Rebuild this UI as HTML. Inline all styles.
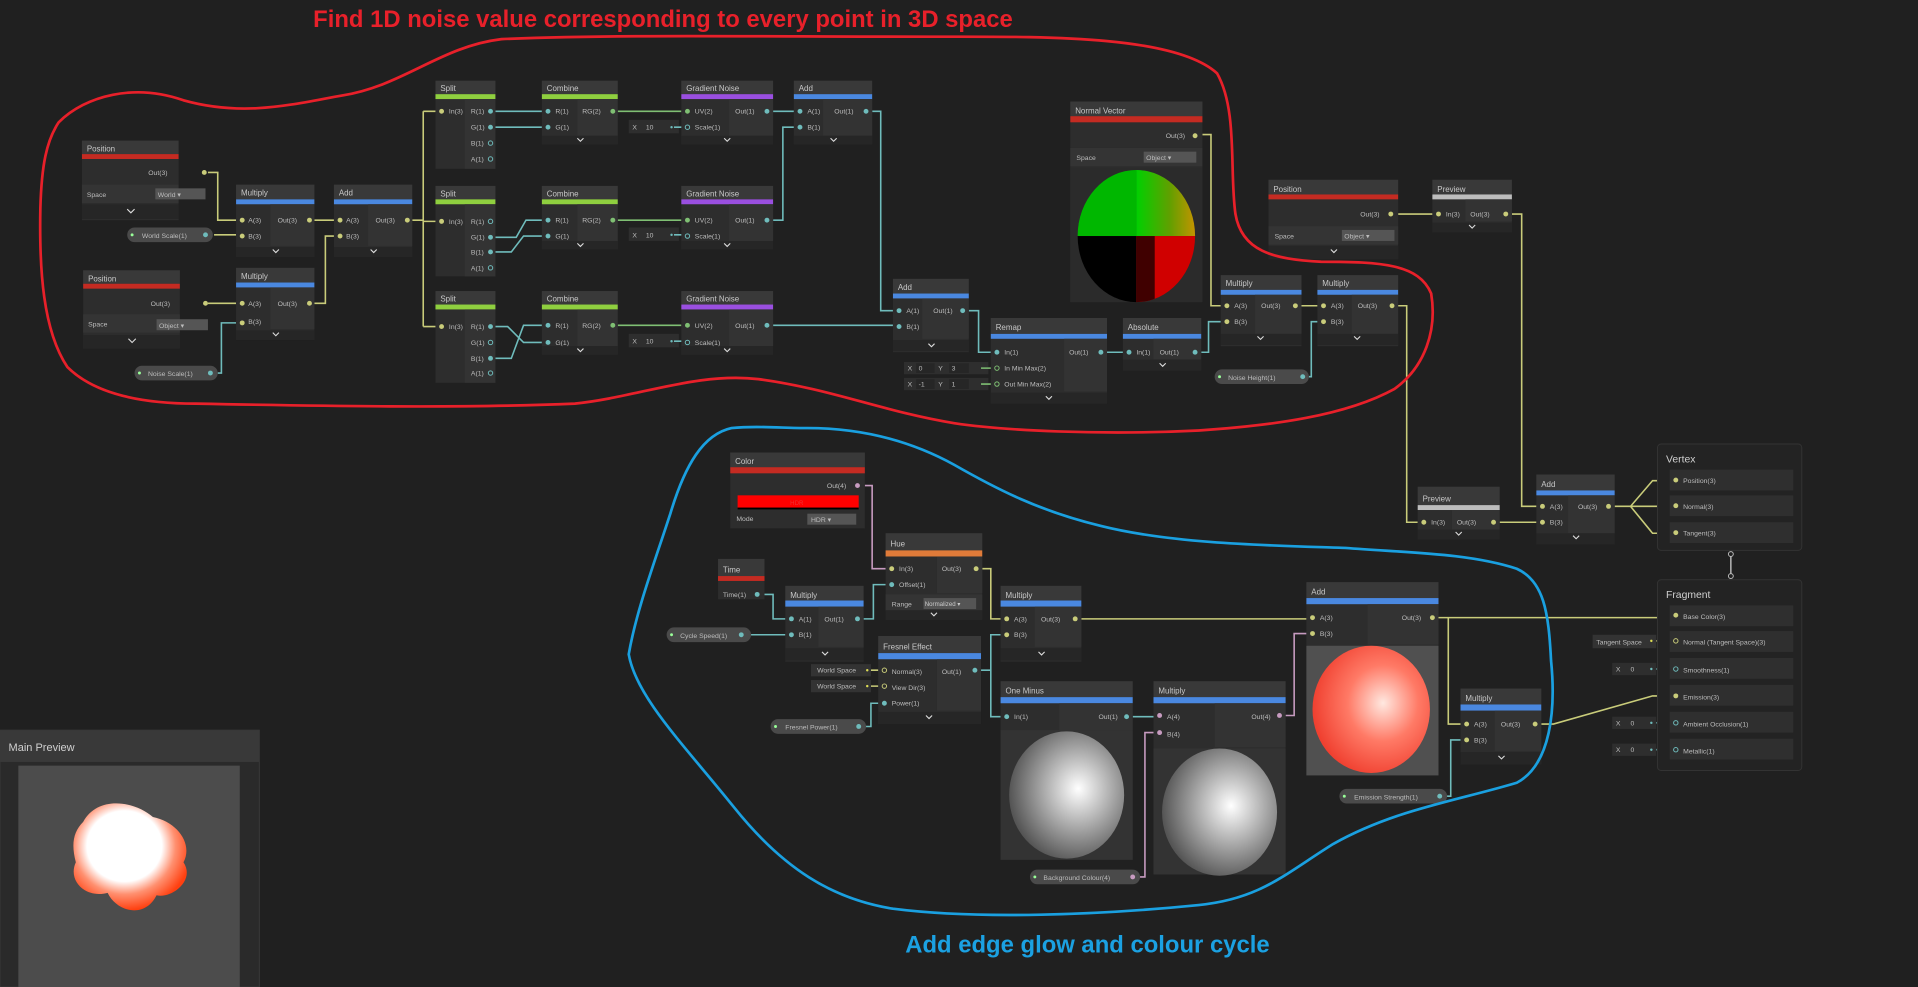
<!DOCTYPE html>
<html><head><meta charset="utf-8"><style>
html,body{margin:0;padding:0;background:#202020;overflow:hidden}
svg{display:block}
text{font-family:"Liberation Sans",sans-serif}
.h{fill:#c8c8c8;font-size:6.5px}
.t{fill:#bdbdbd;font-size:5.6px}
.b{fill:#2d2d2d}.hd{fill:#393939}.f{fill:#262626}.sub{fill:#343434}
.w{fill:none;stroke-width:1.3}
.y{stroke:#c9cc7a}.c{stroke:#6fbcbc}.g{stroke:#7fbf73}.p{stroke:#c79bc0}
.pill{fill:#4a4a4a}
.ch{fill:none;stroke:#ddd;stroke-width:.9}
</style></head><body>
<svg width="1918" height="987" viewBox="0 0 1568 807" preserveAspectRatio="none" xmlns="http://www.w3.org/2000/svg">
<defs>
<radialGradient id="gs" cx="0.6" cy="0.45" r="0.6"><stop offset="0" stop-color="#fff"/><stop offset="1" stop-color="#555"/></radialGradient>
<radialGradient id="rs" cx="0.6" cy="0.45" r="0.6"><stop offset="0" stop-color="#ffe8e0"/><stop offset="0.5" stop-color="#ff7a66"/><stop offset="1" stop-color="#f04030"/></radialGradient>
<linearGradient id="nv1" x1="0" y1="0" x2="1" y2="0"><stop offset="0" stop-color="#00d000"/><stop offset="0.5" stop-color="#60a000"/><stop offset="1" stop-color="#e09000"/></linearGradient>
<radialGradient id="blob" cx="0.45" cy="0.4" r="0.6"><stop offset="0" stop-color="#fff"/><stop offset="0.55" stop-color="#fff"/><stop offset="0.75" stop-color="#ff9070"/><stop offset="1" stop-color="#ff4010"/></radialGradient>
</defs>
<rect width="1568" height="807" fill="#202020"/>

<g class="w">
<path class="y" d="M170,141 H178 V180 H193"/>
<path class="y" d="M175,192 H193"/>
<path class="y" d="M170,248 H193"/>
<path class="c" d="M178,305 H181 V264 H193"/>
<path class="y" d="M257,180 H273"/>
<path class="y" d="M257,248 H266 V193 H273"/>
<path class="y" d="M337,180 H346 M346,91 V267 M346,91 H356 M346,181 H356 M346,267 H356"/>
<path class="c" d="M405,91 H443 M405,104 H443"/>
<path class="c" d="M405,194 H422 L430,180 H443 M405,206 H418 L428,193 H443"/>
<path class="c" d="M405,267 H415 L428,280 H443 M405,293 H418 L428,266 H443"/>
<path class="g" d="M505,91 H557 M505,180 H557 M505,266 H557"/>
<path class="c" d="M632,91 H649 M632,180 H640 V104 H649"/>
<path class="c" d="M713,91 H720 V254 H730 M632,266 H730"/>
<path class="c" d="M792,254 H800 V288 H810 M905,288 H918"/>
<path class="c" d="M982,288 H988 V263 H998"/>
<path class="y" d="M983,110 H990 V250 H998 M1064,250 H1077"/>
<path class="c" d="M1070,308 H1072 V263 H1077"/>
<path class="y" d="M1142,250 H1150 V427 H1159"/>
<path class="y" d="M1143,175 H1171 M1236,175 H1244 V414 H1256 M1226,427 H1256"/>
<path class="y" d="M1320,414 H1333 L1351,393 H1365 M1333,414 H1365 M1333,414 L1351,436 H1365"/>
<path class="y" d="M1176,505 H1365 M1176,505 H1184 V592 H1194 M1260,592 H1270 L1351,569 H1365"/>
<path class="c" d="M1183,651 H1186 V605 H1194"/>
<path class="p" d="M707,397 H713 V465 H724"/>
<path class="c" d="M625,486 H632 V506 H642 M614,519 H642 M706,506 H714 V478 H724"/>
<path class="y" d="M803,465 H810 V506 H818 M884,506 H1068"/>
<path class="c" d="M802,548 H810 V519 H818 M810,548 V586 H818 M708,594 H712 V575 H718"/>
<path class="c" d="M926,586 H943"/>
<path class="p" d="M932,717 H936 V599 H943 M1051,585 H1058 V518 H1068"/>
<path class="y" d="M712,548 H718 M712,561 H718 M1354,524 H1362"/>
<path class="c" d="M1354,547 H1362 M1354,591 H1362 M1354,613 H1362"/>
</g>

<rect x="67" y="115" width="79" height="65" class="b"/><rect x="67" y="115" width="79" height="11" class="hd"/><rect x="67" y="126" width="79" height="4" fill="#c42b22"/>
<text x="71" y="124" class="h">Position</text><text x="143" y="143" class="t" text-anchor="end" dx="-6">Out(3)</text><circle cx="167" cy="141" r="2" fill="#c9cc7a"/>
<rect x="67" y="151" width="79" height="15" class="sub"/><text x="71" y="161" class="t">Space</text><rect x="127" y="154" width="41" height="9" fill="#555"/><text x="129" y="161" class="t" fill="#ddd">World ▾</text>
<rect x="67" y="167" width="79" height="12" class="f"/><path d="M104,171 l3,3 l3,-3" class="ch"/>
<rect x="104" y="186" width="70" height="12" rx="6" class="pill"/><text x="116" y="194.5" class="t">World Scale(1)</text><circle cx="108" cy="192" r="1.2" fill="#9f9"/><circle cx="168" cy="192" r="2" fill="#6fbcbc"/>
<rect x="68" y="221" width="79" height="64" class="b"/><rect x="68" y="221" width="79" height="11" class="hd"/><rect x="68" y="232" width="79" height="4" fill="#c42b22"/>
<text x="72" y="230" class="h">Position</text><text x="144" y="250" class="t" text-anchor="end" dx="-5">Out(3)</text><circle cx="168" cy="248" r="2" fill="#c9cc7a"/>
<rect x="68" y="257" width="79" height="15" class="sub"/><text x="72" y="267" class="t">Space</text><rect x="128" y="261" width="42" height="9" fill="#555"/><text x="130" y="268" class="t">Object ▾</text>
<rect x="68" y="274" width="79" height="11" class="f"/><path d="M105,277 l3,3 l3,-3" class="ch"/>
<rect x="110" y="299" width="68" height="12" rx="6" class="pill"/><text x="121" y="307.5" class="t">Noise Scale(1)</text><circle cx="114" cy="305" r="1.2" fill="#9f9"/><circle cx="172" cy="305" r="2" fill="#6fbcbc"/>

<g transform="translate(193,151)">
<rect width="64" height="59" class="b"/><rect width="64" height="12" class="hd"/><rect y="12" width="64" height="4" fill="#4a88e0"/><text x="4" y="9" class="h">Multiply</text>
<rect x="28" y="16" width="36" height="34" fill="#333"/><text x="10" y="31" class="t">A(3)</text><text x="10" y="44" class="t">B(3)</text><text x="34" y="31" class="t">Out(3)</text>
<circle cx="5" cy="29" r="2" fill="#c9cc7a"/><circle cx="5" cy="42" r="2" fill="#c9cc7a"/><circle cx="60" cy="29" r="2" fill="#c9cc7a"/>
<rect y="51" width="64" height="8" class="f"/><path d="M30,53 l2.5,2.5 l2.5,-2.5" class="ch"/></g>
<g transform="translate(273,151)">
<rect width="64" height="59" class="b"/><rect width="64" height="12" class="hd"/><rect y="12" width="64" height="4" fill="#4a88e0"/><text x="4" y="9" class="h">Add</text>
<rect x="28" y="16" width="36" height="34" fill="#333"/><text x="10" y="31" class="t">A(3)</text><text x="10" y="44" class="t">B(3)</text><text x="34" y="31" class="t">Out(3)</text>
<circle cx="5" cy="29" r="2" fill="#c9cc7a"/><circle cx="5" cy="42" r="2" fill="#c9cc7a"/><circle cx="60" cy="29" r="2" fill="#c9cc7a"/>
<rect y="51" width="64" height="8" class="f"/><path d="M30,53 l2.5,2.5 l2.5,-2.5" class="ch"/></g>
<g transform="translate(193,219)">
<rect width="64" height="59" class="b"/><rect width="64" height="12" class="hd"/><rect y="12" width="64" height="4" fill="#4a88e0"/><text x="4" y="9" class="h">Multiply</text>
<rect x="28" y="16" width="36" height="34" fill="#333"/><text x="10" y="31" class="t">A(3)</text><text x="10" y="46" class="t">B(3)</text><text x="34" y="31" class="t">Out(3)</text>
<circle cx="5" cy="29" r="2" fill="#c9cc7a"/><circle cx="5" cy="45" r="2" fill="#c9cc7a"/><circle cx="60" cy="29" r="2" fill="#c9cc7a"/>
<rect y="51" width="64" height="8" class="f"/><path d="M30,53 l2.5,2.5 l2.5,-2.5" class="ch"/></g>

<g transform="translate(356,66)">
<rect width="49" height="72" class="b"/><rect width="49" height="11" class="hd"/><rect y="11" width="49" height="4" fill="#8fcf3f"/><text x="4" y="8.5" class="h">Split</text>
<rect x="24" y="15" width="25" height="57" fill="#333"/><text x="11" y="27" class="t">In(3)</text><circle cx="5" cy="25" r="2" fill="#c9cc7a"/>
<text x="29" y="27" class="t">R(1)</text><text x="29" y="40" class="t">G(1)</text><text x="29" y="53" class="t">B(1)</text><text x="29" y="66" class="t">A(1)</text>
<circle cx="45" cy="25" r="2" fill="#6fbcbc"/><circle cx="45" cy="38" r="2" fill="#6fbcbc"/><circle cx="45" cy="51" r="1.8" fill="none" stroke="#6fbcbc" stroke-width=".8"/><circle cx="45" cy="64" r="1.8" fill="none" stroke="#6fbcbc" stroke-width=".8"/></g>
<g transform="translate(356,152)">
<rect width="49" height="74" class="b"/><rect width="49" height="11" class="hd"/><rect y="11" width="49" height="4" fill="#8fcf3f"/><text x="4" y="8.5" class="h">Split</text>
<rect x="24" y="15" width="25" height="59" fill="#333"/><text x="11" y="31" class="t">In(3)</text><circle cx="5" cy="29" r="2" fill="#c9cc7a"/>
<text x="29" y="31" class="t">R(1)</text><text x="29" y="44" class="t">G(1)</text><text x="29" y="56" class="t">B(1)</text><text x="29" y="69" class="t">A(1)</text>
<circle cx="45" cy="29" r="1.8" fill="none" stroke="#6fbcbc" stroke-width=".8"/><circle cx="45" cy="42" r="2" fill="#6fbcbc"/><circle cx="45" cy="54" r="2" fill="#6fbcbc"/><circle cx="45" cy="67" r="1.8" fill="none" stroke="#6fbcbc" stroke-width=".8"/></g>
<g transform="translate(356,238)">
<rect width="49" height="75" class="b"/><rect width="49" height="11" class="hd"/><rect y="11" width="49" height="4" fill="#8fcf3f"/><text x="4" y="8.5" class="h">Split</text>
<rect x="24" y="15" width="25" height="60" fill="#333"/><text x="11" y="31" class="t">In(3)</text><circle cx="5" cy="29" r="2" fill="#c9cc7a"/>
<text x="29" y="31" class="t">R(1)</text><text x="29" y="44" class="t">G(1)</text><text x="29" y="57" class="t">B(1)</text><text x="29" y="69" class="t">A(1)</text>
<circle cx="45" cy="29" r="2" fill="#6fbcbc"/><circle cx="45" cy="42" r="1.8" fill="none" stroke="#6fbcbc" stroke-width=".8"/><circle cx="45" cy="55" r="2" fill="#6fbcbc"/><circle cx="45" cy="67" r="1.8" fill="none" stroke="#6fbcbc" stroke-width=".8"/></g>

<g transform="translate(443,66)">
<rect width="62" height="52" class="b"/><rect width="62" height="11" class="hd"/><rect y="11" width="62" height="4" fill="#8fcf3f"/><text x="4" y="8.5" class="h">Combine</text>
<rect x="29" y="15" width="33" height="30" fill="#333"/><text x="11" y="27" class="t">R(1)</text><text x="11" y="40" class="t">G(1)</text><text x="33" y="27" class="t">RG(2)</text>
<circle cx="5" cy="25" r="2" fill="#6fbcbc"/><circle cx="5" cy="38" r="2" fill="#6fbcbc"/><circle cx="58" cy="25" r="2" fill="#7fbf73"/>
<rect y="45" width="62" height="7" class="f"/><path d="M29,47 l2.5,2.5 l2.5,-2.5" class="ch"/></g>
<g transform="translate(443,152)">
<rect width="62" height="52" class="b"/><rect width="62" height="11" class="hd"/><rect y="11" width="62" height="4" fill="#8fcf3f"/><text x="4" y="8.5" class="h">Combine</text>
<rect x="29" y="15" width="33" height="30" fill="#333"/><text x="11" y="30" class="t">R(1)</text><text x="11" y="43" class="t">G(1)</text><text x="33" y="30" class="t">RG(2)</text>
<circle cx="5" cy="28" r="2" fill="#6fbcbc"/><circle cx="5" cy="41" r="2" fill="#6fbcbc"/><circle cx="58" cy="28" r="2" fill="#7fbf73"/>
<rect y="45" width="62" height="7" class="f"/><path d="M29,47 l2.5,2.5 l2.5,-2.5" class="ch"/></g>
<g transform="translate(443,238)">
<rect width="62" height="52" class="b"/><rect width="62" height="11" class="hd"/><rect y="11" width="62" height="4" fill="#8fcf3f"/><text x="4" y="8.5" class="h">Combine</text>
<rect x="29" y="15" width="33" height="30" fill="#333"/><text x="11" y="30" class="t">R(1)</text><text x="11" y="44" class="t">G(1)</text><text x="33" y="30" class="t">RG(2)</text>
<circle cx="5" cy="28" r="2" fill="#6fbcbc"/><circle cx="5" cy="42" r="2" fill="#6fbcbc"/><circle cx="58" cy="28" r="2" fill="#7fbf73"/>
<rect y="45" width="62" height="7" class="f"/><path d="M29,47 l2.5,2.5 l2.5,-2.5" class="ch"/></g>

<g transform="translate(557,66)">
<rect width="75" height="52" class="b"/><rect width="75" height="11" class="hd"/><rect y="11" width="75" height="4" fill="#9a4fe0"/><text x="4" y="8.5" class="h">Gradient Noise</text>
<rect x="39" y="15" width="36" height="30" fill="#333"/><text x="11" y="27" class="t">UV(2)</text><text x="11" y="40" class="t">Scale(1)</text><text x="44" y="27" class="t">Out(1)</text>
<circle cx="5" cy="25" r="2" fill="#7fbf73"/><circle cx="5" cy="38" r="1.8" fill="none" stroke="#6fbcbc" stroke-width=".8"/><circle cx="70" cy="25" r="2" fill="#6fbcbc"/>
<rect y="45" width="75" height="7" class="f"/><path d="M35,47 l2.5,2.5 l2.5,-2.5" class="ch"/></g>
<g transform="translate(557,152)">
<rect width="75" height="52" class="b"/><rect width="75" height="11" class="hd"/><rect y="11" width="75" height="4" fill="#9a4fe0"/><text x="4" y="8.5" class="h">Gradient Noise</text>
<rect x="39" y="15" width="36" height="30" fill="#333"/><text x="11" y="30" class="t">UV(2)</text><text x="11" y="43" class="t">Scale(1)</text><text x="44" y="30" class="t">Out(1)</text>
<circle cx="5" cy="28" r="2" fill="#7fbf73"/><circle cx="5" cy="41" r="1.8" fill="none" stroke="#6fbcbc" stroke-width=".8"/><circle cx="70" cy="28" r="2" fill="#6fbcbc"/>
<rect y="45" width="75" height="7" class="f"/><path d="M35,47 l2.5,2.5 l2.5,-2.5" class="ch"/></g>
<g transform="translate(557,238)">
<rect width="75" height="52" class="b"/><rect width="75" height="11" class="hd"/><rect y="11" width="75" height="4" fill="#9a4fe0"/><text x="4" y="8.5" class="h">Gradient Noise</text>
<rect x="39" y="15" width="36" height="30" fill="#333"/><text x="11" y="30" class="t">UV(2)</text><text x="11" y="44" class="t">Scale(1)</text><text x="44" y="30" class="t">Out(1)</text>
<circle cx="5" cy="28" r="2" fill="#7fbf73"/><circle cx="5" cy="42" r="1.8" fill="none" stroke="#6fbcbc" stroke-width=".8"/><circle cx="70" cy="28" r="2" fill="#6fbcbc"/>
<rect y="45" width="75" height="7" class="f"/><path d="M35,47 l2.5,2.5 l2.5,-2.5" class="ch"/></g>
<g class="t"><rect x="514" y="98" width="41" height="11" fill="#2e2e2e"/><text x="517" y="106">X</text><text x="528" y="106">10</text><circle cx="549" cy="104" r="1" fill="#6fbcbc"/>
<rect x="514" y="186" width="41" height="11" fill="#2e2e2e"/><text x="517" y="194">X</text><text x="528" y="194">10</text><circle cx="549" cy="192" r="1" fill="#6fbcbc"/>
<rect x="514" y="273" width="41" height="11" fill="#2e2e2e"/><text x="517" y="281">X</text><text x="528" y="281">10</text><circle cx="549" cy="279" r="1" fill="#6fbcbc"/></g>
<path class="w c" d="M551,104 H557 M551,192 H557 M551,279 H557"/>

<g transform="translate(649,66)">
<rect width="64" height="52" class="b"/><rect width="64" height="11" class="hd"/><rect y="11" width="64" height="4" fill="#4a88e0"/><text x="4" y="8.5" class="h">Add</text>
<rect x="24" y="15" width="40" height="30" fill="#333"/><text x="11" y="27" class="t">A(1)</text><text x="11" y="40" class="t">B(1)</text><text x="33" y="27" class="t">Out(1)</text>
<circle cx="5" cy="25" r="2" fill="#6fbcbc"/><circle cx="5" cy="38" r="2" fill="#6fbcbc"/><circle cx="59" cy="25" r="2" fill="#6fbcbc"/>
<rect y="45" width="64" height="7" class="f"/><path d="M30,47 l2.5,2.5 l2.5,-2.5" class="ch"/></g>
<g transform="translate(730,228)">
<rect width="62" height="60" class="b"/><rect width="62" height="12" class="hd"/><rect y="12" width="62" height="4" fill="#4a88e0"/><text x="4" y="9" class="h">Add</text>
<rect x="24" y="16" width="38" height="33" fill="#333"/><text x="11" y="28" class="t">A(1)</text><text x="11" y="41" class="t">B(1)</text><text x="33" y="28" class="t">Out(1)</text>
<circle cx="5" cy="26" r="2" fill="#6fbcbc"/><circle cx="5" cy="39" r="2" fill="#6fbcbc"/><circle cx="57" cy="26" r="2" fill="#6fbcbc"/>
<rect y="50" width="62" height="9" class="f"/><path d="M29,53 l2.5,2.5 l2.5,-2.5" class="ch"/></g>
<g transform="translate(810,260)">
<rect width="95" height="70" class="b"/><rect width="95" height="13" class="hd"/><rect y="13" width="95" height="4" fill="#4a88e0"/><text x="4" y="10" class="h">Remap</text>
<rect x="60" y="17" width="35" height="43" fill="#333"/><text x="11" y="30" class="t">In(1)</text><text x="11" y="43" class="t">In Min Max(2)</text><text x="11" y="56" class="t">Out Min Max(2)</text><text x="64" y="30" class="t">Out(1)</text>
<circle cx="5" cy="28" r="2" fill="#6fbcbc"/><circle cx="5" cy="41" r="1.8" fill="none" stroke="#7fbf73" stroke-width=".8"/><circle cx="5" cy="54" r="1.8" fill="none" stroke="#7fbf73" stroke-width=".8"/><circle cx="90" cy="28" r="2" fill="#6fbcbc"/>
<rect y="61" width="95" height="9" class="f"/><path d="M45,64 l2.5,2.5 l2.5,-2.5" class="ch"/></g>
<g class="t"><rect x="739" y="296" width="69" height="10" fill="#2e2e2e"/><text x="742" y="303">X</text><rect x="749" y="297" width="15" height="8" fill="#262626"/><text x="751" y="303">0</text><text x="767" y="303">Y</text><rect x="776" y="297" width="16" height="8" fill="#262626"/><text x="778" y="303">3</text>
<rect x="739" y="309" width="69" height="10" fill="#2e2e2e"/><text x="742" y="316">X</text><rect x="749" y="310" width="15" height="8" fill="#262626"/><text x="751" y="316">-1</text><text x="767" y="316">Y</text><rect x="776" y="310" width="16" height="8" fill="#262626"/><text x="778" y="316">1</text></g>
<path class="w g" d="M802,301 H810 M802,314 H810"/>
<g transform="translate(918,260)">
<rect width="64" height="43" class="b"/><rect width="64" height="13" class="hd"/><rect y="13" width="64" height="4" fill="#4a88e0"/><text x="4" y="10" class="h">Absolute</text>
<rect x="25" y="17" width="39" height="17" fill="#333"/><text x="11" y="30" class="t">In(1)</text><text x="30" y="30" class="t">Out(1)</text>
<circle cx="5" cy="28" r="2" fill="#6fbcbc"/><circle cx="59" cy="28" r="2" fill="#6fbcbc"/>
<rect y="34" width="64" height="9" class="f"/><path d="M30,37 l2.5,2.5 l2.5,-2.5" class="ch"/></g>
<g transform="translate(875,83)">
<rect width="108" height="164" class="b"/><rect width="108" height="12" class="hd"/><rect y="12" width="108" height="5" fill="#c42b22"/><text x="4" y="10" class="h">Normal Vector</text>
<text x="78" y="30" class="t">Out(3)</text><circle cx="102" cy="28" r="2" fill="#c9cc7a"/>
<rect y="38" width="108" height="15" class="sub"/><text x="5" y="48" class="t">Space</text><rect x="60" y="41" width="43" height="9" fill="#555"/><text x="62" y="48" class="t">Object ▾</text>
<rect y="54" width="108" height="110" fill="#2b2b2b"/>
<clipPath id="nvc"><ellipse cx="54" cy="110" rx="48" ry="54"/></clipPath>
<g clip-path="url(#nvc)"><rect x="0" y="50" width="54" height="60" fill="#0a0"/><rect x="54" y="50" width="54" height="60" fill="url(#nv1)"/><rect x="6" y="56" width="48" height="54" fill="#00c000" opacity=".6"/><rect x="0" y="110" width="54" height="60" fill="#000"/><rect x="54" y="110" width="54" height="60" fill="#d00000"/><rect x="54" y="110" width="15" height="60" fill="#400000"/></g>
</g>
<g transform="translate(1037,147)">
<rect width="106" height="65" class="b"/><rect width="106" height="12" class="hd"/><rect y="12" width="106" height="4" fill="#c42b22"/><text x="4" y="10" class="h">Position</text>
<text x="75" y="30" class="t">Out(3)</text><circle cx="100" cy="28" r="2" fill="#c9cc7a"/>
<rect y="38" width="106" height="15" class="sub"/><text x="5" y="48" class="t">Space</text><rect x="60" y="41" width="43" height="9" fill="#555"/><text x="62" y="48" class="t">Object ▾</text>
<rect y="54" width="106" height="11" class="f"/><path d="M51,57 l2.5,2.5 l2.5,-2.5" class="ch"/></g>
<g transform="translate(1171,147)">
<rect width="65" height="43" class="b"/><rect width="65" height="12" class="hd"/><rect y="12" width="65" height="4" fill="#bdbdbd"/><text x="4" y="10" class="h">Preview</text>
<rect x="27" y="16" width="38" height="18" fill="#333"/><text x="11" y="30" class="t">In(3)</text><text x="31" y="30" class="t">Out(3)</text>
<circle cx="5" cy="28" r="2" fill="#c9cc7a"/><circle cx="60" cy="28" r="2" fill="#c9cc7a"/>
<rect y="35" width="65" height="8" class="f"/><path d="M30,37 l2.5,2.5 l2.5,-2.5" class="ch"/></g>
<g transform="translate(998,225)">
<rect width="66" height="58" class="b"/><rect width="66" height="12" class="hd"/><rect y="12" width="66" height="4" fill="#4a88e0"/><text x="4" y="9" class="h">Multiply</text>
<rect x="28" y="16" width="38" height="32" fill="#333"/><text x="11" y="27" class="t">A(3)</text><text x="11" y="40" class="t">B(3)</text><text x="33" y="27" class="t">Out(3)</text>
<circle cx="5" cy="25" r="2" fill="#c9cc7a"/><circle cx="5" cy="38" r="2" fill="#c9cc7a"/><circle cx="61" cy="25" r="2" fill="#c9cc7a"/>
<rect y="48" width="66" height="9" class="f"/><path d="M30,50 l2.5,2.5 l2.5,-2.5" class="ch"/></g>
<g transform="translate(1077,225)">
<rect width="66" height="58" class="b"/><rect width="66" height="12" class="hd"/><rect y="12" width="66" height="4" fill="#4a88e0"/><text x="4" y="9" class="h">Multiply</text>
<rect x="28" y="16" width="38" height="32" fill="#333"/><text x="11" y="27" class="t">A(3)</text><text x="11" y="40" class="t">B(3)</text><text x="33" y="27" class="t">Out(3)</text>
<circle cx="5" cy="25" r="2" fill="#c9cc7a"/><circle cx="5" cy="38" r="2" fill="#c9cc7a"/><circle cx="61" cy="25" r="2" fill="#c9cc7a"/>
<rect y="48" width="66" height="9" class="f"/><path d="M30,50 l2.5,2.5 l2.5,-2.5" class="ch"/></g>
<rect x="993" y="302" width="77" height="12" rx="6" class="pill"/><text x="1004" y="310.5" class="t">Noise Height(1)</text><circle cx="997" cy="308" r="1.2" fill="#9f9"/><circle cx="1065" cy="308" r="2" fill="#6fbcbc"/>
<g transform="translate(1159,398)">
<rect width="67" height="43" class="b"/><rect width="67" height="15" class="hd"/><rect y="15" width="67" height="4" fill="#bdbdbd"/><text x="4" y="12" class="h">Preview</text>
<rect x="28" y="19" width="39" height="16" fill="#333"/><text x="11" y="31" class="t">In(3)</text><text x="32" y="31" class="t">Out(3)</text>
<circle cx="5" cy="29" r="2" fill="#c9cc7a"/><circle cx="62" cy="29" r="2" fill="#c9cc7a"/>
<rect y="35" width="67" height="8" class="f"/><path d="M31,37 l2.5,2.5 l2.5,-2.5" class="ch"/></g>
<g transform="translate(1256,388)">
<rect width="64" height="57" class="b"/><rect width="64" height="13" class="hd"/><rect y="13" width="64" height="4" fill="#4a88e0"/><text x="4" y="10" class="h">Add</text>
<rect x="26" y="17" width="38" height="31" fill="#333"/><text x="11" y="28" class="t">A(3)</text><text x="11" y="41" class="t">B(3)</text><text x="34" y="28" class="t">Out(3)</text>
<circle cx="5" cy="26" r="2" fill="#c9cc7a"/><circle cx="5" cy="39" r="2" fill="#c9cc7a"/><circle cx="59" cy="26" r="2" fill="#c9cc7a"/>
<rect y="48" width="64" height="9" class="f"/><path d="M30,50 l2.5,2.5 l2.5,-2.5" class="ch"/></g>
<rect x="1355" y="363" width="118" height="87" rx="3" fill="#232323" stroke="#333" stroke-width=".8"/>
<text x="1362" y="378" fill="#d0d0d0" font-size="8.5">Vertex</text>
<rect x="1365" y="384" width="101" height="17" fill="#2f2f2f"/><circle cx="1370" cy="392.5" r="2" fill="#c9cc7a"/><text x="1376" y="395" class="t">Position(3)</text>
<rect x="1365" y="405" width="101" height="17" fill="#2f2f2f"/><circle cx="1370" cy="413.5" r="2" fill="#c9cc7a"/><text x="1376" y="416" class="t">Normal(3)</text>
<rect x="1365" y="427" width="101" height="17" fill="#2f2f2f"/><circle cx="1370" cy="435.5" r="2" fill="#c9cc7a"/><text x="1376" y="438" class="t">Tangent(3)</text>
<path d="M1415,454 V470" stroke="#bbb" stroke-width="1.2"/><circle cx="1415" cy="453" r="2" fill="#202020" stroke="#bbb" stroke-width=".8"/><circle cx="1415" cy="471" r="2" fill="#202020" stroke="#bbb" stroke-width=".8"/>
<rect x="1355" y="474" width="118" height="156" rx="3" fill="#232323" stroke="#333" stroke-width=".8"/>
<text x="1362" y="489" fill="#d0d0d0" font-size="8.5">Fragment</text>
<rect x="1365" y="495" width="101" height="17" fill="#2f2f2f"/><circle cx="1370" cy="503" r="2" fill="#c9cc7a"/><text x="1376" y="506" class="t">Base Color(3)</text>
<rect x="1365" y="516" width="101" height="17" fill="#2f2f2f"/><circle cx="1370" cy="524" r="1.8" fill="none" stroke="#c9cc7a" stroke-width=".8"/><text x="1376" y="527" class="t">Normal (Tangent Space)(3)</text>
<rect x="1365" y="538" width="101" height="17" fill="#2f2f2f"/><circle cx="1370" cy="547" r="1.8" fill="none" stroke="#6fbcbc" stroke-width=".8"/><text x="1376" y="550" class="t">Smoothness(1)</text>
<rect x="1365" y="560" width="101" height="17" fill="#2f2f2f"/><circle cx="1370" cy="569" r="2" fill="#c9cc7a"/><text x="1376" y="572" class="t">Emission(3)</text>
<rect x="1365" y="582" width="101" height="17" fill="#2f2f2f"/><circle cx="1370" cy="591" r="1.8" fill="none" stroke="#6fbcbc" stroke-width=".8"/><text x="1376" y="594" class="t">Ambient Occlusion(1)</text>
<rect x="1365" y="604" width="101" height="17" fill="#2f2f2f"/><circle cx="1370" cy="613" r="1.8" fill="none" stroke="#6fbcbc" stroke-width=".8"/><text x="1376" y="616" class="t">Metallic(1)</text>
<g class="t"><rect x="1302" y="519" width="52" height="11" fill="#333"/><text x="1305" y="527">Tangent Space</text><circle cx="1350" cy="524" r="1" fill="#dd5"/>
<rect x="1318" y="542" width="36" height="10" fill="#2e2e2e"/><text x="1321" y="549">X</text><text x="1333" y="549">0</text><circle cx="1350" cy="547" r="1" fill="#6fbcbc"/>
<rect x="1318" y="586" width="36" height="10" fill="#2e2e2e"/><text x="1321" y="593">X</text><text x="1333" y="593">0</text><circle cx="1350" cy="591" r="1" fill="#6fbcbc"/>
<rect x="1318" y="608" width="36" height="10" fill="#2e2e2e"/><text x="1321" y="615">X</text><text x="1333" y="615">0</text><circle cx="1350" cy="613" r="1" fill="#6fbcbc"/></g>

<g transform="translate(597,370)">
<rect width="110" height="62" class="b"/><rect width="110" height="12" class="hd"/><rect y="12" width="110" height="5" fill="#c42b22"/><text x="4" y="9.5" class="h">Color</text>
<text x="79" y="29" class="t">Out(4)</text><circle cx="104" cy="27" r="2" fill="#c79bc0"/>
<rect x="6" y="35" width="99" height="11" fill="#ff0000"/><rect x="6" y="45" width="99" height="1.5" fill="#000"/><text x="49" y="43" font-size="5" fill="#e33">HDR</text>
<text x="5" y="56" class="t">Mode</text><rect x="63" y="50" width="40" height="9" fill="#555"/><text x="66" y="57" class="t">HDR ▾</text></g>
<g transform="translate(724,436)">
<rect width="79" height="70" class="b"/><rect width="79" height="14" class="hd"/><rect y="14" width="79" height="5" fill="#e07b39"/><text x="4" y="11" class="h">Hue</text>
<rect x="42" y="19" width="37" height="30" fill="#333"/><text x="11" y="31" class="t">In(3)</text><text x="11" y="44" class="t">Offset(1)</text><text x="46" y="31" class="t">Out(3)</text>
<circle cx="5" cy="29" r="2" fill="#c9cc7a"/><circle cx="5" cy="42" r="2" fill="#6fbcbc"/><circle cx="74" cy="29" r="2" fill="#c9cc7a"/>
<rect y="50" width="79" height="13" class="sub"/><text x="5" y="60" class="t">Range</text><rect x="31" y="53" width="43" height="9" fill="#555"/><text x="32" y="59.5" font-size="5" fill="#ccc">Normalized ▾</text>
<rect y="63" width="79" height="8" class="f"/><path d="M37,65 l2.5,2.5 l2.5,-2.5" class="ch"/></g>
<g transform="translate(587,457)">
<rect width="38" height="33" class="b"/><rect width="38" height="14" class="hd"/><rect y="14" width="38" height="4" fill="#c42b22"/><text x="4" y="11" class="h">Time</text>
<text x="4" y="31" class="t">Time(1)</text><circle cx="32" cy="29" r="2" fill="#6fbcbc"/></g>
<rect x="545" y="513" width="69" height="12" rx="6" class="pill"/><text x="556" y="521.5" class="t">Cycle Speed(1)</text><circle cx="549" cy="519" r="1.2" fill="#9f9"/><circle cx="606" cy="519" r="2" fill="#6fbcbc"/>
<g transform="translate(642,479)">
<rect width="64" height="62" class="b"/><rect width="64" height="12" class="hd"/><rect y="12" width="64" height="5" fill="#4a88e0"/><text x="4" y="10" class="h">Multiply</text>
<rect x="27" y="17" width="37" height="33" fill="#333"/><text x="11" y="29" class="t">A(1)</text><text x="11" y="42" class="t">B(1)</text><text x="32" y="29" class="t">Out(1)</text>
<circle cx="5" cy="27" r="2" fill="#6fbcbc"/><circle cx="5" cy="40" r="2" fill="#6fbcbc"/><circle cx="59" cy="27" r="2" fill="#6fbcbc"/>
<rect y="51" width="64" height="10" class="f"/><path d="M30,54 l2.5,2.5 l2.5,-2.5" class="ch"/></g>
<g transform="translate(718,520)">
<rect width="84" height="72" class="b"/><rect width="84" height="14" class="hd"/><rect y="14" width="84" height="5" fill="#4a88e0"/><text x="4" y="11" class="h">Fresnel Effect</text>
<rect x="48" y="19" width="36" height="42" fill="#333"/><text x="11" y="31" class="t">Normal(3)</text><text x="11" y="44" class="t">View Dir(3)</text><text x="11" y="57" class="t">Power(1)</text><text x="52" y="31" class="t">Out(1)</text>
<circle cx="5" cy="28" r="1.8" fill="none" stroke="#c9cc7a" stroke-width=".8"/><circle cx="5" cy="41" r="1.8" fill="none" stroke="#c9cc7a" stroke-width=".8"/><circle cx="5" cy="55" r="2" fill="#6fbcbc"/><circle cx="79" cy="28" r="2" fill="#6fbcbc"/>
<rect y="62" width="84" height="10" class="f"/><path d="M39,65 l2.5,2.5 l2.5,-2.5" class="ch"/></g>
<g class="t"><rect x="663" y="543" width="49" height="10" fill="#333"/><text x="668" y="550">World Space</text><circle cx="709" cy="548" r="1" fill="#dd5"/>
<rect x="663" y="556" width="49" height="10" fill="#333"/><text x="668" y="563">World Space</text><circle cx="709" cy="561" r="1" fill="#dd5"/></g>
<rect x="630" y="588" width="78" height="12" rx="6" class="pill"/><text x="642" y="596.5" class="t">Fresnel Power(1)</text><circle cx="634" cy="594" r="1.2" fill="#9f9"/><circle cx="702" cy="594" r="2" fill="#6fbcbc"/>
<g transform="translate(818,479)">
<rect width="66" height="62" class="b"/><rect width="66" height="12" class="hd"/><rect y="12" width="66" height="5" fill="#4a88e0"/><text x="4" y="10" class="h">Multiply</text>
<rect x="28" y="17" width="38" height="33" fill="#333"/><text x="11" y="29" class="t">A(3)</text><text x="11" y="42" class="t">B(3)</text><text x="33" y="29" class="t">Out(3)</text>
<circle cx="5" cy="27" r="2" fill="#c9cc7a"/><circle cx="5" cy="40" r="2" fill="#c9cc7a"/><circle cx="61" cy="27" r="2" fill="#c9cc7a"/>
<rect y="51" width="66" height="10" class="f"/><path d="M31,54 l2.5,2.5 l2.5,-2.5" class="ch"/></g>
<g transform="translate(818,557)">
<rect width="108" height="146" class="b"/><rect width="108" height="13" class="hd"/><rect y="13" width="108" height="5" fill="#4a88e0"/><text x="4" y="10" class="h">One Minus</text>
<rect x="48" y="18" width="60" height="22" fill="#333"/><text x="11" y="31" class="t">In(1)</text><text x="80" y="31" class="t">Out(1)</text>
<circle cx="5" cy="29" r="2" fill="#6fbcbc"/><circle cx="103" cy="29" r="2" fill="#6fbcbc"/>
<rect y="40" width="108" height="106" fill="#333"/><ellipse cx="54" cy="93" rx="47" ry="52" fill="url(#gs)"/></g>
<g transform="translate(943,557)">
<rect width="108" height="158" class="b"/><rect width="108" height="13" class="hd"/><rect y="13" width="108" height="5" fill="#4a88e0"/><text x="4" y="10" class="h">Multiply</text>
<rect x="50" y="18" width="58" height="36" fill="#333"/><text x="11" y="31" class="t">A(4)</text><text x="11" y="45" class="t">B(4)</text><text x="80" y="31" class="t">Out(4)</text>
<circle cx="5" cy="28" r="2" fill="#c79bc0"/><circle cx="5" cy="42" r="2" fill="#c79bc0"/><circle cx="103" cy="28" r="2" fill="#c79bc0"/>
<rect y="55" width="108" height="103" fill="#333"/><ellipse cx="54" cy="107" rx="47" ry="52" fill="url(#gs)"/></g>
<rect x="842" y="711" width="90" height="12" rx="6" class="pill"/><text x="853" y="719.5" class="t">Background Colour(4)</text><circle cx="846" cy="717" r="1.2" fill="#9f9"/><circle cx="926" cy="717" r="2" fill="#c79bc0"/>
<g transform="translate(1068,476)">
<rect width="108" height="158" class="b"/><rect width="108" height="13" class="hd"/><rect y="13" width="108" height="5" fill="#4a88e0"/><text x="4" y="10" class="h">Add</text>
<rect x="50" y="18" width="58" height="33" fill="#333"/><text x="11" y="31" class="t">A(3)</text><text x="11" y="44" class="t">B(3)</text><text x="78" y="31" class="t">Out(3)</text>
<circle cx="5" cy="29" r="2" fill="#c9cc7a"/><circle cx="5" cy="42" r="2" fill="#c9cc7a"/><circle cx="103" cy="29" r="2" fill="#c9cc7a"/>
<rect y="52" width="108" height="106" fill="#505050"/><ellipse cx="53" cy="104" rx="48" ry="52" fill="url(#rs)"/></g>
<g transform="translate(1194,563)">
<rect width="66" height="62" class="b"/><rect width="66" height="13" class="hd"/><rect y="13" width="66" height="5" fill="#4a88e0"/><text x="4" y="10" class="h">Multiply</text>
<rect x="28" y="18" width="38" height="33" fill="#333"/><text x="11" y="31" class="t">A(3)</text><text x="11" y="44" class="t">B(3)</text><text x="33" y="31" class="t">Out(3)</text>
<circle cx="5" cy="29" r="2" fill="#c9cc7a"/><circle cx="5" cy="42" r="2" fill="#c9cc7a"/><circle cx="61" cy="29" r="2" fill="#c9cc7a"/>
<rect y="52" width="66" height="10" class="f"/><path d="M31,55 l2.5,2.5 l2.5,-2.5" class="ch"/></g>
<rect x="1095" y="645" width="88" height="12" rx="6" class="pill"/><text x="1107" y="653.5" class="t">Emission Strength(1)</text><circle cx="1099" cy="651" r="1.2" fill="#9f9"/><circle cx="1177" cy="651" r="2" fill="#6fbcbc"/>

<rect x="0" y="597" width="212" height="210" fill="#2a2a2a" stroke="#3a3a3a" stroke-width=".8"/>
<rect x="0" y="597" width="212" height="26" fill="#393939"/>
<text x="7" y="614" fill="#d0d0d0" font-size="9">Main Preview</text>
<rect x="15" y="626" width="181" height="181" fill="#4c4c4c"/>
<path d="M68,672 C80,650 110,655 125,668 C145,672 158,690 150,705 C160,720 140,735 128,732 C118,752 95,745 88,730 C70,735 55,720 62,705 C58,690 60,680 68,672 Z" fill="url(#blob)"/>

<path d="M48,100 C70,78 110,68 150,82 C200,96 240,85 280,78 C330,70 360,38 410,32 C500,28 620,30 760,30 C850,30 960,28 995,60 C1012,90 1005,140 1010,175 C1015,205 1040,212 1080,214 C1130,214 1160,216 1170,240 C1175,270 1165,300 1140,318 C1100,340 1040,348 980,352 C900,356 820,352 780,346 C720,336 680,318 620,310 C570,304 520,325 470,330 C380,334 260,332 160,330 C110,330 75,320 55,300 C35,270 32,220 33,170 C34,135 38,115 48,100 Z" fill="none" stroke="#e8202a" stroke-width="2.2"/>
<path d="M598,350 C575,355 560,380 548,420 C535,460 520,500 514,535 C520,570 560,610 600,660 C640,710 680,735 730,743 C800,752 900,748 980,740 C1030,735 1050,715 1090,690 C1140,662 1190,655 1240,640 C1268,625 1272,580 1268,540 C1266,500 1262,475 1240,465 C1200,452 1150,452 1100,448 C1040,446 960,445 900,430 C850,418 815,400 780,380 C740,358 700,350 660,350 C640,350 618,348 598,350 Z" fill="none" stroke="#1aa0e0" stroke-width="2.2"/>
<text x="542" y="22" text-anchor="middle" fill="#e8202a" font-size="19.5" font-weight="bold">Find 1D noise value corresponding to every point in 3D space</text>
<text x="889" y="779" text-anchor="middle" fill="#1ba1e2" font-size="19.5" font-weight="bold">Add edge glow and colour cycle</text>
</svg>
</body></html>
